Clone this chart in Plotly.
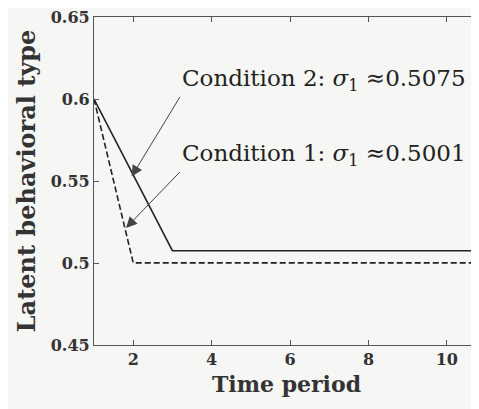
import plotly.graph_objects as go

periods = [1, 2, 3, 4, 5, 6, 7, 8, 9, 10, 11]
cond2 = [0.6, 0.554, 0.5075, 0.5075, 0.5075, 0.5075, 0.5075, 0.5075, 0.5075, 0.5075, 0.5075]
cond1 = [0.6, 0.5001, 0.5001, 0.5001, 0.5001, 0.5001, 0.5001, 0.5001, 0.5001, 0.5001, 0.5001]
x_ticks = [2, 4, 6, 8, 10]
y_ticks = [0.45, 0.5, 0.55, 0.6, 0.65]
y_tick_text = ["0.45", "0.5", "0.55", "0.6", "0.65"]
label2 = "Condition 2: <i>σ</i><sub>1</sub> ≈0.5075"
label1 = "Condition 1: <i>σ</i><sub>1</sub> ≈0.5001"

fig = go.Figure()
fig.add_trace(go.Scatter(x=periods, y=cond2, mode="lines",
                         line=dict(color="#222", width=1.6), showlegend=False))
fig.add_trace(go.Scatter(x=periods, y=cond1, mode="lines",
                         line=dict(color="#222", width=1.6, dash="6px,3px"), showlegend=False))

ann_font = dict(family="DejaVu Serif", size=23, color="#222")
fig.add_annotation(x=1.96, y=0.5527, ax=3.19, ay=0.6012, axref="x", ayref="y",
                   xref="x", yref="y", text=label2, showarrow=True, arrowhead=2,
                   xanchor="left", yanchor="bottom", font=ann_font,
                   arrowsize=2.2, arrowwidth=1, arrowcolor="#444")
fig.add_annotation(x=1.816, y=0.5214, ax=3.19, ay=0.5555, axref="x", ayref="y",
                   xref="x", yref="y", text=label1, showarrow=True, arrowhead=2,
                   xanchor="left", yanchor="bottom", font=ann_font,
                   arrowsize=2.2, arrowwidth=1, arrowcolor="#444")

tick_font = dict(family="DejaVu Serif", size=16, color="#333")
fig.update_layout(
    width=471, height=401,
    margin=dict(l=86, r=0, t=7, b=64),
    paper_bgcolor="#f6f6f4", plot_bgcolor="#f6f6f4",
    xaxis=dict(range=[1, 10.82], tickvals=x_ticks, ticktext=[f"<b>{t}</b>" for t in x_ticks],
               ticks="inside", ticklen=5, ticklabeloverflow="allow",
               tickcolor="#555", showline=True, linecolor="#555", linewidth=1.2,
               mirror="ticks", showgrid=False, zeroline=False,
               tickfont=tick_font,
               title=dict(text="<b>Time period</b>", standoff=8,
                          font=dict(family="DejaVu Serif", size=22, color="#333"))),
    yaxis=dict(range=[0.45, 0.65], tickvals=y_ticks, ticktext=[f"<b>{t}</b>" for t in y_tick_text],
               ticks="inside", ticklen=5, tickcolor="#555", showline=True, linecolor="#555",
               linewidth=1.2, mirror=False, showgrid=False, zeroline=False,
               ticklabeloverflow="allow",
               tickfont=tick_font,
               title=dict(text="<b>Latent behavioral type</b>", standoff=8,
                          font=dict(family="DejaVu Serif", size=24, color="#333"))),
)
fig.write_html("out.html")
